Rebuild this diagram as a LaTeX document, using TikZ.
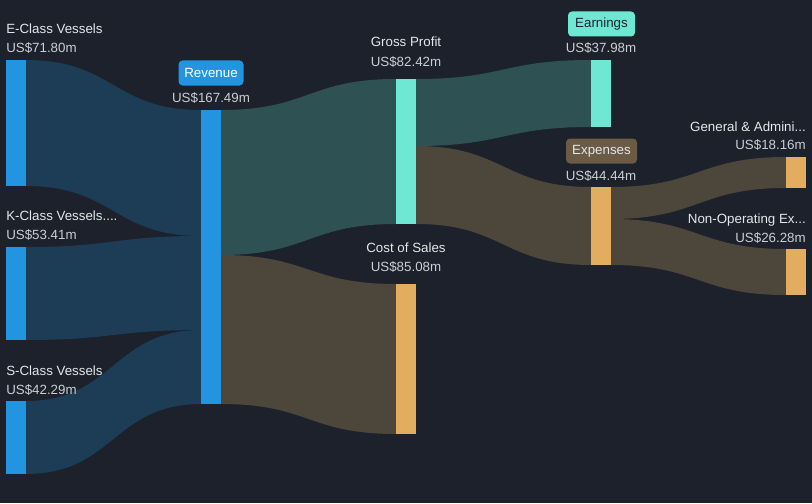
\documentclass[tikz,border=0pt]{standalone}
\usepackage{fontspec}
\setmainfont{Liberation Sans}
\usetikzlibrary{positioning}
\definecolor{bg}{HTML}{1C212C}
\definecolor{revblue}{HTML}{2394DF}
\definecolor{profit}{HTML}{6FE8D3}
\definecolor{cost}{HTML}{E3AD5F}
\definecolor{flowblue}{HTML}{1D3D56}
\definecolor{flowteal}{HTML}{2E5153}
\definecolor{flowbrown}{HTML}{4D463A}
\definecolor{badgebrown}{HTML}{6B5A45}
\definecolor{labeltext}{HTML}{E4E6EA}
\definecolor{valuetext}{HTML}{CACED4}
\tikzset{label/.style = {text=labeltext, inner sep = 0, font=\fontsize{10pt}{12pt}\selectfont}}
\tikzset{value/.style = {label, text=valuetext}}
\tikzset{badge/.style = {fill=#1, rounded corners=3pt, inner sep = 0, minimum height=18.75pt,
                         font=\fontsize{10pt}{12pt}\selectfont}}
% band from (x1, top1..bot1) to (x2, top2..bot2)
\newcommand\band[7]{\fill [#7] (#1,#2) .. controls ({(#1+#4)/2},#2) and ({(#1+#4)/2},#5) .. (#4,#5)
  -- (#4,#6) .. controls ({(#1+#4)/2},#6) and ({(#1+#4)/2},#3) .. (#1,#3) -- cycle;}

\begin{document}
\begin{tikzpicture}[x=0.75pt, y=-0.75pt]
    \fill [bg] (0, 0) rectangle (812, 503);
    \useasboundingbox (0, 0) rectangle (812, 503);

    \band{26}{60}{186}{201}{110}{236}{flowblue}
    \band{26}{247}{340}{201}{236}{330}{flowblue}
    \band{26}{401}{474}{201}{330}{404}{flowblue}
    \band{221}{110}{255}{396}{79}{224}{flowteal}
    \band{221}{255}{404}{396}{284}{434}{flowbrown}
    \band{416}{79}{146}{591}{60}{127}{flowteal}
    \band{416}{146}{224}{591}{187}{265}{flowbrown}
    \band{611}{187}{219}{786}{157}{188}{flowbrown}
    \band{611}{219}{265}{786}{249}{295}{flowbrown}

    \fill [revblue] (6, 60) rectangle (26, 186);
    \fill [revblue] (6, 247) rectangle (26, 340);
    \fill [revblue] (6, 401) rectangle (26, 474);
    \fill [revblue] (201, 110) rectangle (221, 404);
    \fill [profit] (396, 79) rectangle (416, 224);
    \fill [cost] (396, 284) rectangle (416, 434);
    \fill [profit] (591, 60) rectangle (611, 127);
    \fill [cost] (591, 187) rectangle (611, 265);
    \fill [cost] (786, 157) rectangle (806, 188);
    \fill [cost] (786, 249) rectangle (806, 295);

    \node [label, anchor=base west] (ecls) at (6, 34) {E-Class Vessels};
    \node [value, anchor=base west] (eclsv) at (6, 53) {US\$71.80m};
    \node [label, anchor=base west] (kcls) at (6, 220) {K-Class Vessels....};
    \node [value, anchor=base west] (kclsv) at (6, 239) {US\$53.41m};
    \node [label, anchor=base west] (scls) at (6, 375) {S-Class Vessels};
    \node [value, anchor=base west] (sclsv) at (6, 394) {US\$42.29m};

    \node [badge=revblue, text=white, minimum width=48.75pt] (rev) at (211, 73) {Revenue};
    \node [value, anchor=base] (revv) at (211, 102) {US\$167.49m};

    \node [label, anchor=base] (gp) at (406, 47) {Gross Profit};
    \node [value, anchor=base] (gpv) at (406, 66) {US\$82.42m};
    \node [label, anchor=base] (cos) at (406, 252) {Cost of Sales};
    \node [value, anchor=base] (cosv) at (406, 271) {US\$85.08m};

    \node [badge=profit, text=bg, minimum width=50.25pt] (earn) at (601.5, 24) {Earnings};
    \node [value, anchor=base] (earnv) at (601, 53) {US\$37.98m};
    \node [badge=badgebrown, text=labeltext, minimum width=53.25pt] (exp) at (601.5, 151) {Expenses};
    \node [value, anchor=base] (expv) at (601, 180) {US\$44.44m};

    \node [label, anchor=base east] (gna) at (806, 131) {General \& Admini...};
    \node [value, anchor=base east] (gnav) at (806, 149) {US\$18.16m};
    \node [label, anchor=base east] (nonop) at (806, 223) {Non-Operating Ex...};
    \node [value, anchor=base east] (nonopv) at (806, 242) {US\$26.28m};
\end{tikzpicture}
\end{document}
